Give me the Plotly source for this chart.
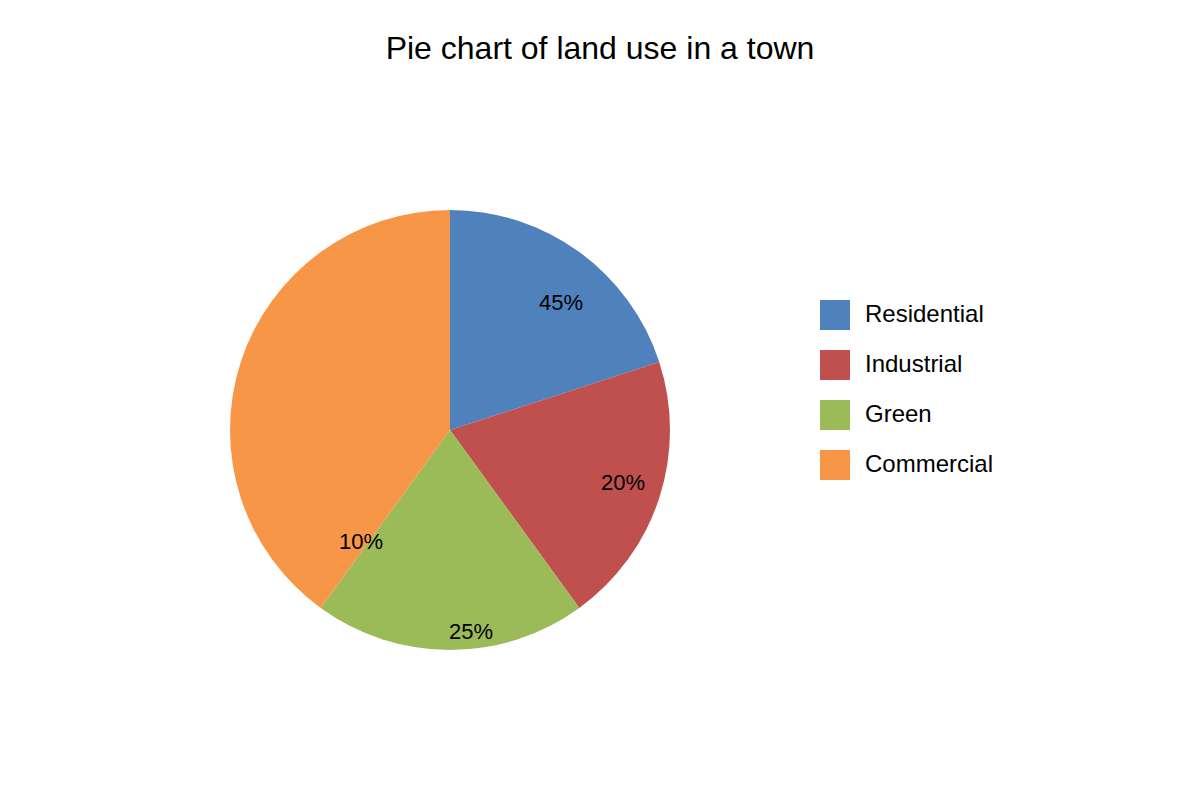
import math
import plotly.graph_objects as go

# ---- data ----
categories = ["Residential", "Industrial", "Green", "Commercial"]
slice_values = [20, 20, 20, 40]
slice_labels = ["45%", "20%", "25%", "10%"]
colors = ["#4F81BD", "#C0504D", "#9BBB59", "#F79646"]

W, H = 1200, 800
OFF = 8  # page offset of the figure in the browser
FONT = "Liberation Sans, Arial, sans-serif"

# pie placement (pixels in the screenshot)
cx, cy, R = 450 - OFF, 430 - OFF, 220
dom_x = [(cx - R) / W, (cx + R) / W]
dom_y = [(H - cy - R) / H, (H - cy + R) / H]

fig = go.Figure(go.Pie(
    labels=categories,
    values=slice_values,
    marker=dict(colors=colors, line=dict(width=0)),
    sort=False,
    direction="clockwise",
    rotation=0,
    textinfo="none",
    hoverinfo="label+value",
    showlegend=False,
    domain=dict(x=dom_x, y=dom_y),
))

# label placement: angle (deg clockwise from top) and radius fraction
label_place = [(41, 0.77), (107, 0.82), (174, 0.92), (218.5, 0.65)]
annotations = []
for txt, (ang, rf) in zip(slice_labels, label_place):
    a = math.radians(ang)
    px = cx + R * rf * math.sin(a)
    py = cy - R * rf * math.cos(a)
    annotations.append(dict(
        x=px / W, y=1 - py / H, xref="paper", yref="paper",
        text=txt, showarrow=False, xanchor="center", yanchor="middle",
        font=dict(family=FONT, size=22, color="#000000"),
    ))

# custom legend
shapes = []
lx, ly0, step, sz = 820 - OFF, 300 - OFF, 50, 30
for i, (name, col) in enumerate(zip(categories, colors)):
    top = ly0 + i * step
    shapes.append(dict(
        type="rect", xref="paper", yref="paper",
        x0=lx / W, x1=(lx + sz) / W,
        y0=1 - (top + sz) / H, y1=1 - top / H,
        fillcolor=col, line=dict(width=0),
    ))
    annotations.append(dict(
        x=(lx + 43) / W, y=1 - (top + sz / 2 - 2) / H, xref="paper", yref="paper",
        text=name, showarrow=False, xanchor="left", yanchor="middle",
        font=dict(family=FONT, size=24, color="#000000"),
    ))

fig.update_layout(
    width=W, height=H,
    margin=dict(l=0, r=0, t=0, b=0),
    paper_bgcolor="white",
    plot_bgcolor="white",
    title=dict(
        text="Pie chart of land use in a town",
        x=(600 - OFF) / W, xanchor="center", y=1 - (48 - OFF) / H, yanchor="middle",
        yref="container", xref="paper",
        font=dict(family=FONT, size=32, color="#000000"),
    ),
    annotations=annotations,
    shapes=shapes,
)

fig.write_html("out.html")
